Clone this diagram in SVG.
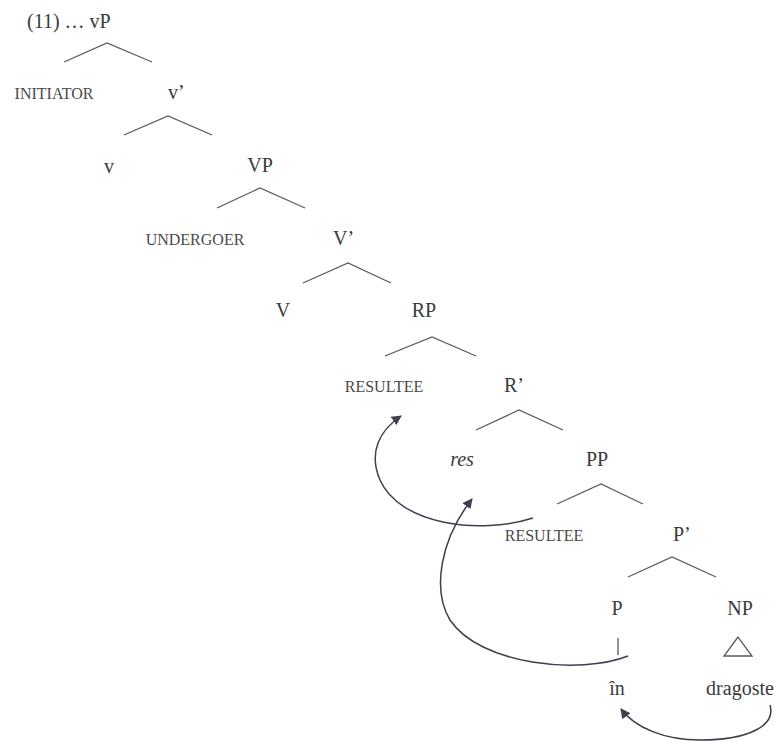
<svg xmlns="http://www.w3.org/2000/svg" width="775" height="741" viewBox="0 0 775 741">
<style>
text{font-family:"Liberation Serif","Times New Roman",serif;fill:#3a3a3a}
.cat{font-size:20px}
.sc{font-size:16px;fill:#4a4a4a}
.br{fill:none;stroke:#5a5a5a;stroke-width:1.3}
.arr{fill:none;stroke:#3c3f4c;stroke-width:1.5}
</style>
<defs>
<marker id="ah" viewBox="0 0 10 10" refX="9" refY="5" markerWidth="10" markerHeight="10" markerUnits="userSpaceOnUse" orient="auto">
<path d="M0,0 L10,5 L0,10 z" fill="#3c3f4c"/>
</marker>
</defs>
<rect width="775" height="741" fill="#ffffff"/>
<g id="title"><text class="cat" x="27" y="28">(11) … vP</text></g>
<g id="initiator"><text class="sc" x="54" y="99" text-anchor="middle">INITIATOR</text></g>
<g id="vbar"><text class="cat" x="168" y="99">v’</text></g>
<g id="v"><text class="cat" x="109" y="173" text-anchor="middle">v</text></g>
<g id="VP"><text class="cat" x="260" y="172" text-anchor="middle">VP</text></g>
<g id="undergoer"><text class="sc" x="195" y="245" text-anchor="middle">UNDERGOER</text></g>
<g id="Vbar"><text class="cat" x="333" y="245">V’</text></g>
<g id="V"><text class="cat" x="283" y="317" text-anchor="middle">V</text></g>
<g id="RP"><text class="cat" x="424" y="317" text-anchor="middle">RP</text></g>
<g id="resultee1"><text class="sc" x="384" y="392" text-anchor="middle">RESULTEE</text></g>
<g id="Rbar"><text class="cat" x="504" y="392">R’</text></g>
<g id="res"><text class="cat" x="462" y="466" text-anchor="middle" font-style="italic">res</text></g>
<g id="PP"><text class="cat" x="597" y="466" text-anchor="middle">PP</text></g>
<g id="resultee2"><text class="sc" x="544" y="541" text-anchor="middle">RESULTEE</text></g>
<g id="Pbar"><text class="cat" x="673" y="541">P’</text></g>
<g id="P"><text class="cat" x="617" y="615" text-anchor="middle">P</text></g>
<g id="NP"><text class="cat" x="740" y="615" text-anchor="middle">NP</text></g>
<g id="in"><text class="cat" x="617" y="695" text-anchor="middle">în</text></g>
<g id="dragoste"><text class="cat" x="740" y="695" text-anchor="middle">dragoste</text></g>
<g id="branches">
<polyline class="br" points="64,62 107,43 152,62"/>
<polyline class="br" points="124,135 168,116 212,135"/>
<polyline class="br" points="217,208 260,188 305,208"/>
<polyline class="br" points="303,283 348,263 391,283"/>
<polyline class="br" points="385,356 432,337 476,356"/>
<polyline class="br" points="476,430 519,410 563,430"/>
<polyline class="br" points="557,504 601,484 643,504"/>
<polyline class="br" points="628,577 672,557 716,577"/>
<line class="br" x1="618" y1="638" x2="618" y2="655"/>
<polygon class="br" points="738,637 724,656 752,656"/>
</g>
<g id="connectors">
<path class="arr" d="M533,518 C480,535 400,525 380,480 C368,452 380,430 401,416" marker-end="url(#ah)"/>
<path class="arr" d="M628,656 C580,675 480,665 450,620 C432,590 440,540 472,499" marker-end="url(#ah)"/>
<path class="arr" d="M770,705 C776,725 750,740 700,740 C665,740 635,728 621,709" marker-end="url(#ah)"/>
</g>
</svg>
